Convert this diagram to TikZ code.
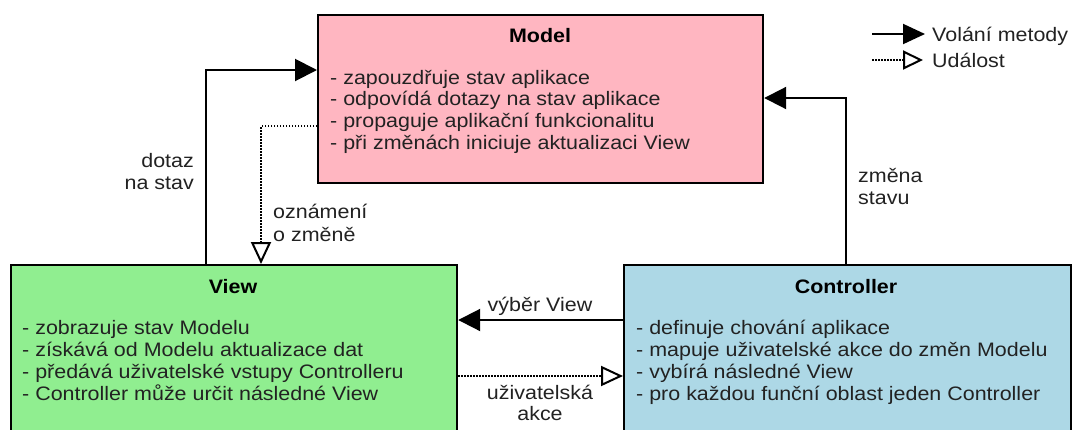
\documentclass[tikz,border=0pt]{standalone}
\usepackage{fontspec}
\newfontfamily\arl[FakeStretch=1.1]{Liberation Sans}
\usetikzlibrary{arrows.meta}
\definecolor{mpink}{HTML}{FFB6C1}
\definecolor{vgreen}{HTML}{90EE90}
\definecolor{cblue}{HTML}{ADD8E6}
\definecolor{tcol}{HTML}{222222}
\begin{document}
\begin{tikzpicture}[x=1pt,y=-1pt,
  box/.style={draw=black, line width=2.2pt, inner sep=0pt, anchor=north west},
  txt/.style={font=\arl\fontsize{19.5}{22}\selectfont, text=tcol, inner sep=0pt, anchor=base west},
  ttl/.style={font=\arl\bfseries\fontsize{19.5}{22}\selectfont, text=black, inner sep=0pt, anchor=base},
  lbl/.style={txt},
  call/.style={line width=2pt, -{Triangle[length=22pt,width=22pt]}},
  event/.style={line width=2pt, dash pattern=on 1.5pt off 1.5pt, -{Triangle[open,length=22pt,width=20pt]}},
  callsm/.style={line width=2pt, -{Triangle[length=22pt,width=20pt]}},
  eventsm/.style={line width=2pt, dash pattern=on 1.5pt off 1.5pt, -{Triangle[open,length=20pt,width=19pt]}}]
\useasboundingbox (0,0) rectangle (1073,429);
\clip (0,0) rectangle (1073,429);
\fill[white] (0,0) rectangle (1073,429);

% boxes
\node[box, fill=mpink, minimum width=445pt, minimum height=168pt] (model) at (317,14) {};
\node[box, fill=vgreen, minimum width=446pt, minimum height=200pt] (view) at (10,264) {};
\node[box, fill=cblue, minimum width=447pt, minimum height=200pt] (ctrl) at (623,264) {};

% titles
\node[ttl] (mt) at (540,42) {Model};
\node[ttl] (vt) at (233,293) {View};
\node[ttl] (ct) at (846,293) {Controller};

% Model text
\foreach \t [count=\i] in {- zapouzdřuje stav aplikace, - odpovídá dotazy na stav aplikace, - propaguje aplikační funkcionalitu, - při změnách iniciuje aktualizaci View}
  \node[txt] (m\i) at (330,{84+21.8*(\i-1)}) {\t};
% View text
\foreach \t [count=\i] in {- zobrazuje stav Modelu, - získává od Modelu aktualizace dat, - předává uživatelské vstupy Controlleru, - Controller může určit následné View}
  \node[txt] (v\i) at (22,{334+22.3*(\i-1)}) {\t};
% Controller text
\foreach \t [count=\i] in {- definuje chování aplikace, - mapuje uživatelské akce do změn Modelu, - vybírá následné View, - pro každou funční oblast jeden Controller}
  \node[txt] (c\i) at (636,{334+22.3*(\i-1)}) {\t};

% connectors
\coordinate (q) at (206,70);
\draw[call] (view.north -| q) |- (model.west |- q);
\coordinate (n) at (261,126);
\draw[event] (model.west |- n) -| (view.north -| n);
\coordinate (c) at (846,98);
\draw[call] (ctrl.north -| c) |- (model.east |- c);
\coordinate (s) at (540,320);
\draw[call] (ctrl.west |- s) -- (view.east |- s);
\coordinate (u) at (540,376);
\draw[event] (view.east |- u) -- (ctrl.west |- u);

% connector labels
\node[lbl, anchor=base east] (d1) at (194,167) {dotaz};
\node[lbl, anchor=base east] (d2) at (194,189) {na stav};
\node[lbl] (o1) at (273,218) {oznámení};
\node[lbl] (o2) at (273,241) {o změně};
\node[lbl] (z1) at (858,182) {změna};
\node[lbl] (z2) at (858,204) {stavu};
\node[lbl, anchor=base] (vb) at (540,311) {výběr View};
\node[lbl, anchor=base] (ua1) at (540,399) {uživatelská};
\node[lbl, anchor=base] (ua2) at (540,420) {akce};

% legend
\node[lbl] (lv) at (932,41) {Volání metody};
\node[lbl] (lu) at (932,67) {Událost};
\coordinate (l1) at (872,34);
\coordinate (l2) at (872,60);
\coordinate (l1e) at ([xshift=-7pt]lv.base west);
\coordinate (l2e) at ([xshift=-9pt]lu.base west);
\draw[callsm] (l1) -- (l1e |- l1);
\draw[eventsm] (l2) -- (l2e |- l2);
\end{tikzpicture}
\end{document}
